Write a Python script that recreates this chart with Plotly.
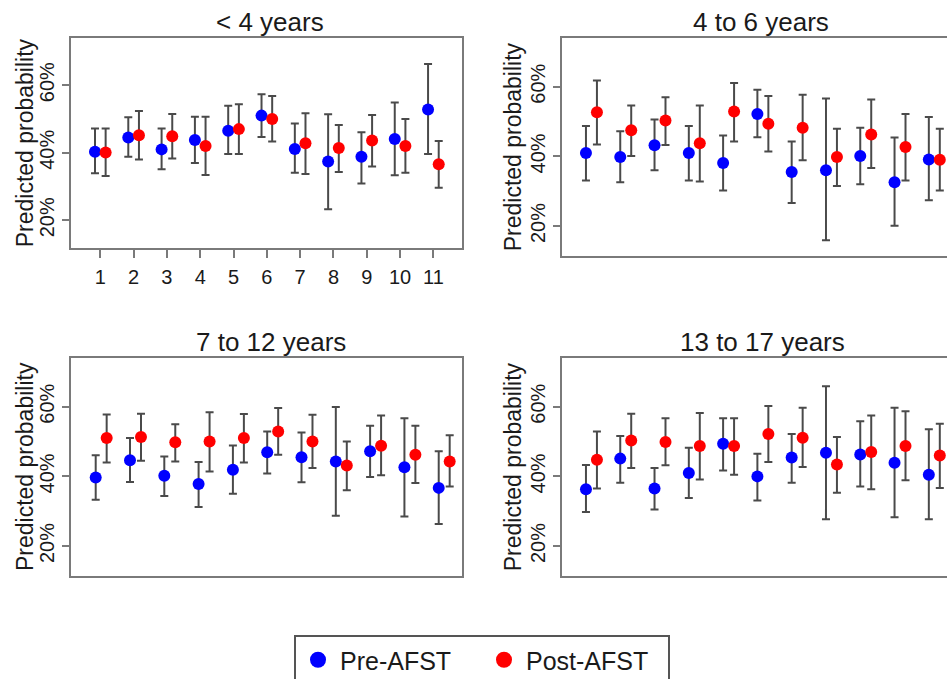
import plotly.graph_objects as go

groups = [1, 2, 3, 4, 5, 6, 7, 8, 9, 10, 11]
panel_titles = ["< 4 years", "4 to 6 years", "7 to 12 years", "13 to 17 years"]
y_tick_vals = [20, 40, 60]
y_tick_text = ["20%", "40%", "60%"]
series_names = ["Pre-AFST", "Post-AFST"]

# ---- < 4 years ----
pre_lt4 = [40.3, 44.5, 41.0, 43.8, 46.5, 51.0, 41.1, 37.4, 38.8, 44.1, 52.8]
pre_lt4_lo = [33.9, 38.8, 35.1, 37.0, 39.6, 44.7, 34.1, 23.3, 30.9, 33.3, 39.6]
pre_lt4_hi = [47.2, 50.5, 47.2, 50.7, 53.9, 57.3, 48.7, 51.4, 46.1, 54.9, 66.3]
post_lt4 = [40.1, 45.2, 44.9, 42.0, 47.0, 50.0, 42.8, 41.4, 43.6, 42.0, 36.6]
post_lt4_lo = [33.1, 38.0, 38.3, 33.4, 39.6, 43.3, 33.7, 34.3, 35.9, 34.1, 29.6]
post_lt4_hi = [47.2, 52.4, 51.5, 50.7, 54.4, 56.8, 51.7, 48.2, 51.2, 50.0, 43.5]

# ---- 4 to 6 years ----
pre_4to6 = [41.0, 39.8, 43.2, 41.0, 38.1, 52.2, 35.5, 36.0, 40.1, 32.6, 39.1]
pre_4to6_lo = [33.1, 32.6, 36.0, 33.1, 30.2, 45.5, 26.6, 15.9, 32.0, 20.1, 27.4]
pre_4to6_hi = [48.7, 47.2, 50.6, 48.7, 46.0, 59.1, 44.3, 56.6, 48.2, 45.4, 51.3]
post_4to6 = [52.7, 47.5, 50.3, 43.8, 52.9, 49.4, 48.2, 39.8, 46.3, 42.7, 39.0]
post_4to6_lo = [43.4, 40.1, 43.3, 32.8, 44.3, 41.4, 38.9, 31.5, 36.7, 33.1, 30.2]
post_4to6_hi = [61.8, 54.6, 57.0, 54.6, 61.1, 57.3, 57.7, 47.9, 56.3, 52.2, 47.9]

# ---- 7 to 12 years ----
pre_7to12 = [39.7, 44.6, 40.2, 37.8, 41.9, 46.9, 45.5, 44.3, 47.2, 42.6, 36.7]
pre_7to12_lo = [33.3, 38.4, 34.4, 31.2, 35.0, 40.8, 38.3, 28.7, 39.8, 28.5, 26.3]
pre_7to12_hi = [46.1, 51.0, 45.7, 44.1, 48.9, 52.9, 52.6, 59.9, 54.5, 56.7, 47.2]
post_7to12 = [51.0, 51.3, 49.8, 50.0, 51.0, 52.9, 50.0, 43.1, 48.8, 46.2, 44.3]
post_7to12_lo = [44.0, 44.5, 44.3, 41.4, 44.0, 46.2, 42.4, 36.0, 40.3, 38.1, 37.1]
post_7to12_hi = [57.8, 58.0, 55.0, 58.4, 57.9, 59.6, 57.7, 50.0, 57.5, 54.5, 51.8]

# ---- 13 to 17 years ----
pre_13to17 = [36.3, 45.1, 36.5, 41.0, 49.4, 40.0, 45.4, 46.8, 46.3, 43.9, 40.5]
pre_13to17_lo = [29.8, 38.2, 30.5, 33.8, 41.7, 33.1, 38.2, 27.7, 37.1, 28.3, 27.7]
pre_13to17_hi = [43.3, 51.6, 42.4, 48.2, 56.7, 46.5, 52.2, 65.9, 55.8, 59.7, 53.5]
post_13to17 = [44.8, 50.3, 49.9, 48.7, 48.7, 52.2, 51.1, 43.4, 47.0, 48.7, 46.0]
post_13to17_lo = [36.5, 42.4, 43.2, 39.1, 40.5, 44.1, 42.7, 35.3, 36.3, 38.9, 36.7]
post_13to17_hi = [52.9, 58.0, 56.7, 58.2, 56.7, 60.2, 59.7, 51.3, 57.5, 58.7, 55.1]

panels = [
    (pre_lt4, pre_lt4_lo, pre_lt4_hi, post_lt4, post_lt4_lo, post_lt4_hi),
    (pre_4to6, pre_4to6_lo, pre_4to6_hi, post_4to6, post_4to6_lo, post_4to6_hi),
    (pre_7to12, pre_7to12_lo, pre_7to12_hi, post_7to12, post_7to12_lo, post_7to12_hi),
    (pre_13to17, pre_13to17_lo, pre_13to17_hi, post_13to17, post_13to17_lo, post_13to17_hi),
]

W, H = 947, 679
FONT = "Liberation Sans, Arial, Helvetica, sans-serif"
AXIS_GRAY = "#7a7a7a"
BAR_GRAY = "#4a4a4a"
TEXT = "#1a1a1a"

# panel boxes in pixels: (left, right, top, bottom)
boxes = [
    (71, 461.7, 38.3, 248.3),
    (562.3, 947, 38.3, 256),
    (71, 461.7, 358.3, 576),
    (562.3, 947, 358.3, 576),
]
x_ranges = [[0.12, 11.85], [0.15, 11.37], [0.12, 11.51], [0.15, 11.37]]
y_ranges = [[11.7, 73.9], [11.4, 73.9], [11.4, 73.9], [11.4, 73.9]]
title_pos = [(270, 22), (761, 22), (271, 342), (762, 342)]
ytitle_pos = [(25, 143.3), (513.3, 147), (25, 467), (513.3, 467)]
OFFSET = 0.16

fig = go.Figure()
colors = ["#0000ff", "#ff0000"]

for i, p in enumerate(panels):
    suffix = "" if i == 0 else str(i + 1)
    for s in range(2):
        vals, lo, hi = p[3 * s], p[3 * s + 1], p[3 * s + 2]
        xs = [g + (OFFSET if s == 1 else -OFFSET) for g in groups]
        fig.add_trace(go.Scatter(
            x=xs, y=vals, mode="markers",
            name=series_names[s],
            showlegend=False,
            marker=dict(size=12, color=colors[s], line=dict(width=0)),
            error_y=dict(type="data", symmetric=False,
                         array=[h - v for h, v in zip(hi, vals)],
                         arrayminus=[v - l for v, l in zip(vals, lo)],
                         color=BAR_GRAY, thickness=2, width=4),
            xaxis="x" + suffix, yaxis="y" + suffix,
            cliponaxis=False,
        ))

# legend entries (larger symbols, as in the reference legend)
for s in range(2):
    fig.add_trace(go.Scatter(
        x=[None], y=[None], mode="markers", name=series_names[s],
        marker=dict(size=16, color=colors[s], line=dict(width=0)),
        showlegend=True, xaxis="x", yaxis="y",
    ))

layout = dict(
    width=W, height=H,
    margin=dict(l=0, r=0, t=0, b=0, autoexpand=False),
    paper_bgcolor="white", plot_bgcolor="white",
    font=dict(family=FONT, color=TEXT),
    showlegend=True,
    legend=dict(orientation="h", x=294 / W, xanchor="left",
                y=1 - 635 / H, yanchor="top",
                bordercolor="#555555", borderwidth=2,
                font=dict(size=25, family=FONT, color=TEXT),
                itemwidth=34,
                entrywidth=137, entrywidthmode="pixels",
                bgcolor="white"),
    annotations=[],
)

for i in range(4):
    suffix = "" if i == 0 else str(i + 1)
    l, r, t, b = boxes[i]
    xa = dict(domain=[l / W, r / W], range=x_ranges[i], anchor="y" + suffix,
              showgrid=False, zeroline=False, showline=True, linecolor=AXIS_GRAY,
              linewidth=2, mirror=True, fixedrange=True)
    if i == 0:
        xa.update(tickmode="array", tickvals=groups, ticktext=[str(g) for g in groups],
                  ticks="outside", ticklen=8, tickwidth=1.5, tickcolor=AXIS_GRAY,
                  tickfont=dict(size=20, color=TEXT), ticklabelstandoff=2)
    else:
        xa.update(showticklabels=False, ticks="")
    ya = dict(domain=[1 - b / H, 1 - t / H], range=y_ranges[i], anchor="x" + suffix,
              showgrid=False, zeroline=False, showline=True, linecolor=AXIS_GRAY,
              linewidth=2, mirror=(i in (0, 2)), fixedrange=True,
              tickmode="array", tickvals=y_tick_vals, ticktext=y_tick_text,
              ticks="outside", ticklen=7, tickwidth=1.5, tickcolor=AXIS_GRAY,
              tickangle=-90, tickfont=dict(size=20, color=TEXT))
    layout["xaxis" + suffix] = xa
    layout["yaxis" + suffix] = ya
    tx, ty = title_pos[i]
    layout["annotations"].append(dict(text=panel_titles[i], x=tx / W, y=1 - ty / H,
                                      xref="paper", yref="paper", xanchor="center",
                                      yanchor="middle", showarrow=False,
                                      font=dict(size=26, color=TEXT)))
    yx, yy = ytitle_pos[i]
    layout["annotations"].append(dict(text="Predicted probability", x=yx / W, y=1 - yy / H,
                                      xref="paper", yref="paper", xanchor="center",
                                      yanchor="middle", showarrow=False, textangle=-90,
                                      font=dict(size=23, color=TEXT)))

fig.update_layout(**layout)
fig.write_html("out.html")
